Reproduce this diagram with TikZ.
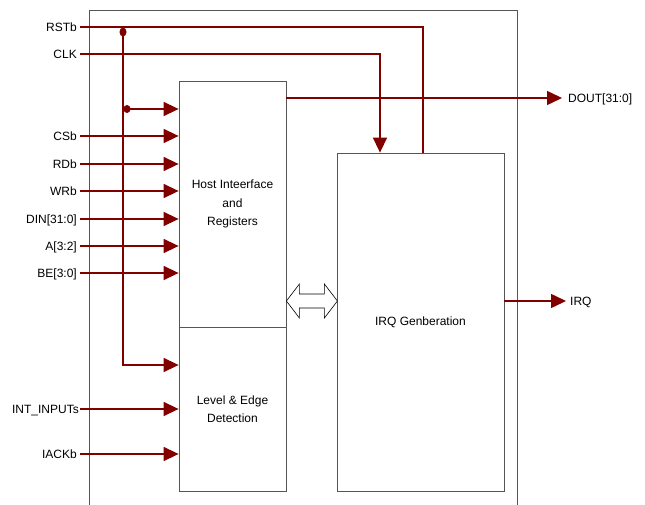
\documentclass[tikz,border=0pt]{standalone}
\usepackage{fontspec}
\setmainfont{Liberation Sans}
\usetikzlibrary{arrows.meta}
\definecolor{sigred}{RGB}{128,0,0}
\definecolor{boxgray}{RGB}{85,85,85}
\tikzset{
  wire/.style={sigred, line width=1.5pt},
  sig/.style={wire, -{Triangle[length=15pt,width=14pt]}},
  blk/.style={draw=boxgray, line width=0.8pt, fill=white, inner sep=0pt, align=center,
    font=\fontsize{12}{18.5}\selectfont},
  pin/.style={inner sep=0pt, text height=8.6pt, text depth=0pt, font=\fontsize{12}{14}\selectfont},
}
\begin{document}
\begin{tikzpicture}[x=1pt,y=-1pt]
        \useasboundingbox (0,0) rectangle (645,505);
        % ==== OUTER BOUNDARY ====
        \draw[boxgray, line width=1pt] (89,505) -- (89,11) -- (517,11) -- (517,505);
        % ==== BLOCKS ====
        \node[blk, minimum width=107pt, minimum height=246pt] (host) at (232.5,204) {Host Inteerface\\and\\Registers};
        \node[blk, minimum width=107pt, minimum height=164pt] (lvl) at (232.5,409) {Level \& Edge\\Detection};
        \node[blk, minimum width=167pt, minimum height=338pt] (irq) at (420.5,322) {IRQ Genberation};
        % ==== PIN LABELS ====
        \node[pin, anchor=east] (rst) at (77,27) {RSTb};
        \node[pin, anchor=east] (clk) at (77,54) {CLK};
        \node[pin, anchor=east] (cs) at (77,136) {CSb};
        \node[pin, anchor=east] (rd) at (77,164) {RDb};
        \node[pin, anchor=east] (wr) at (77,191) {WRb};
        \node[pin, anchor=east] (din) at (77,219) {DIN[31:0]};
        \node[pin, anchor=east] (addr) at (77,246) {A[3:2]};
        \node[pin, anchor=east] (be) at (77,273) {BE[3:0]};
        \node[pin, anchor=east] (intin) at (79,409) {INT\_INPUTs};
        \node[pin, anchor=east] (iack) at (77,454) {IACKb};
        \node[pin, anchor=west] (dout) at (568,98) {DOUT[31:0]};
        \node[pin, anchor=west] (irqout) at (570,301) {IRQ};
        % ==== CLOCK AND RESET ====
        \coordinate (rstdot) at (123,32);
        \coordinate (rstbend) at (123,365);
        \coordinate (hostrst) at (127,109);
        \draw[wire] ([xshift=3pt]rst.east) -| ([xshift=2.5pt]irq.north);
        \draw[sig] ([xshift=3pt]clk.east) -| ([xshift=-40.5pt]irq.north);
        \draw[sig] (rstdot) -- (rstbend) -- (rstbend -| lvl.west);
        \draw[sig] (hostrst) -- (hostrst -| host.west);
        \fill[sigred] (rstdot) ellipse [x radius=3.5pt, y radius=4.5pt];
        \fill[sigred] (hostrst) ellipse [x radius=3.5pt, y radius=4pt];
        % ==== HOST INPUTS ====
        \foreach \p in {cs,rd,wr,din,addr,be}
            \draw[sig] ([xshift=3pt]\p.east) -- (\p -| host.west);
        % ==== INTERRUPT INPUTS ====
        \draw[sig] ([xshift=1pt]intin.east) -- (intin -| lvl.west);
        \draw[sig] ([xshift=3pt]iack.east) -- (iack -| lvl.west);
        % ==== OUTPUTS ====
        \draw[sig] (dout -| host.east) -- ([xshift=-6pt]dout.west);
        \draw[sig] (irqout -| irq.east) -- ([xshift=-4pt]irqout.west);
        % ==== INTERNAL BUS ====
        \draw[black, line width=0.6pt, fill=white] (irqout -| host.east) -- ++(13,-17) -- ++(0,10) -- ++(25,0)
            -- ++(0,-10) -- ++(13,17) -- ++(-13,17) -- ++(0,-10) -- ++(-25,0) -- ++(0,10) -- cycle;
\end{tikzpicture}
\end{document}
